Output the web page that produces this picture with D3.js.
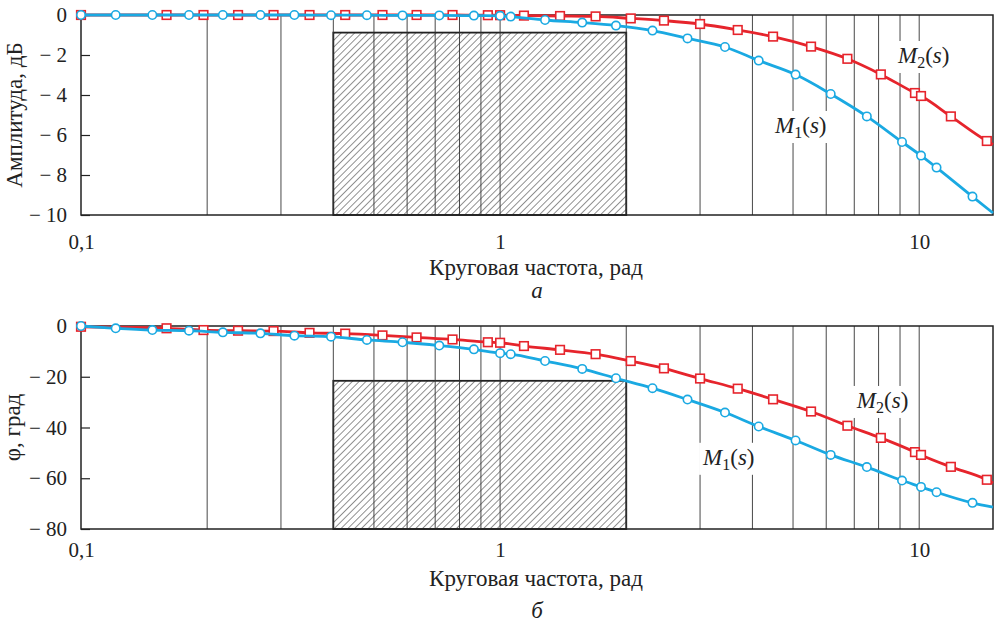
<!DOCTYPE html>
<html>
<head>
<meta charset="utf-8">
<script src="https://cdnjs.cloudflare.com/ajax/libs/d3/7.8.5/d3.min.js"></script>
<style>
body { margin: 0; background: #fff; }
text { font-family: "Liberation Serif", "DejaVu Serif", serif; fill: #222; }
</style>
</head>
<body>
<div id="chart"></div>
<script>
let width = 1001,
    height = 622;

// M1(s): circles, M2(s): squares; last point (15) is the line end at the frame
const m1Freq  = [0.1, 0.121, 0.148, 0.181, 0.218, 0.268, 0.323, 0.395, 0.481, 0.585, 0.716, 0.866,
                 1.0, 1.06, 1.28, 1.57, 1.89, 2.31, 2.80, 3.44, 4.14, 5.07, 6.15, 7.50, 9.10, 10.1, 11.0, 13.4, 15];
const m1Amp   = [0, 0, 0, 0, 0, 0, 0, -0.01, -0.01, -0.02, -0.02, -0.03,
                 -0.04, -0.08, -0.25, -0.38, -0.53, -0.78, -1.17, -1.6, -2.28, -2.98, -3.95, -5.07, -6.35, -7.03, -7.63, -9.08, -9.9];
const m1Phase = [0, -0.9, -1.6, -1.85, -2.5, -2.9, -3.8, -4.2, -5.5, -6.4, -7.7, -9.2,
                 -10.7, -11.1, -13.8, -16.9, -20.6, -24.5, -29, -34.1, -39.6, -45.1, -50.8, -55.6, -60.9, -63.4, -65.5, -69.7, -71.4];

const m2Freq  = [0.1, 0.160, 0.196, 0.237, 0.288, 0.351, 0.427, 0.524, 0.632, 0.770, 0.935,
                 1.0, 1.14, 1.39, 1.69, 2.05, 2.46, 3.00, 3.69, 4.48, 5.52, 6.74, 8.10, 9.77, 10.1, 11.9, 14.5, 15];
const m2Amp   = [0, 0, 0, 0, 0, 0, 0, 0, 0, 0, -0.01,
                 -0.01, -0.03, -0.05, -0.07, -0.17, -0.28, -0.45, -0.75, -1.08, -1.58, -2.19, -2.97, -3.9, -4.05, -5.07, -6.3, -6.47];
const m2Phase = [-0.3, -0.9, -1.6, -1.85, -2.0, -2.7, -3.0, -3.7, -4.5, -5.3, -6.4,
                 -6.6, -7.9, -9.4, -11.1, -13.8, -16.7, -20.7, -24.7, -28.9, -33.7, -39.3, -44.1, -49.7, -50.8, -55.5, -60.6, -61.9];

// hatched band
const bandFreq = [0.4, 2];
const bandAmp = -0.88;
const bandPhase = -21.6;

const ampTicks = [0, -2, -4, -6, -8, -10];
const phaseTicks = [0, -20, -40, -60, -80];
const freqLabels = [0.1, 1, 10];
const freqMax = 15;

// curve label anchors [freq, value]
const ampLabels = [[4.53, -5.9, "1"], [8.9, -2.4, "2"]];
const phaseLabels = [[3.05, -54.7, "1"], [7.1, -32.3, "2"]];

const blue = "#1aa9e2",
      red = "#e6242c";

const svg = d3.select("#chart")
      .append("svg")
      .attr("width", width)
      .attr("height", height);

const x = d3.scaleLog().domain([0.1, freqMax]).range([81, 993]);

svg.append("defs").append("pattern")
    .attr("id", "hatch")
    .attr("patternUnits", "userSpaceOnUse")
    .attr("width", 4.8)
    .attr("height", 4.8)
    .attr("patternTransform", "rotate(45)")
  .append("line")
    .attr("x1", 0).attr("y1", 0)
    .attr("x2", 0).attr("y2", 4.8)
    .attr("stroke", "#222")
    .attr("stroke-width", 1);

const panels = [
  { top: 15, bottom: 215, domain: [-10, 0], ticks: ampTicks, band: bandAmp,
    m1: m1Amp, m2: m2Amp, labels: ampLabels, title: "Амплитуда, дБ", titleX: 22,
    tickPad: 19, xTitleY: 275, letter: "а", letterY: 298 },
  { top: 326, bottom: 529, domain: [-80, 0], ticks: phaseTicks, band: bandPhase,
    m1: m1Phase, m2: m2Phase, labels: phaseLabels, title: "φ, град", titleX: 20,
    tickPad: 13, xTitleY: 586, letter: "б", letterY: 618 }
];

function fmt(d) {
  return d < 0 ? "\u2212 " + Math.abs(d) : String(d).replace(".", ",");
}

panels.forEach(function (p) {
  const y = d3.scaleLinear().domain(p.domain).range([p.bottom, p.top]);
  const g = svg.append("g");

  // hatched band
  g.append("rect")
      .attr("x", x(bandFreq[0]))
      .attr("y", y(p.band))
      .attr("width", x(bandFreq[1]) - x(bandFreq[0]))
      .attr("height", y(p.domain[0]) - y(p.band))
      .attr("fill", "url(#hatch)")
      .attr("stroke", "#222")
      .attr("stroke-width", 1.8);

  // vertical grid
  const grid = x.ticks().filter(function (d) { return d > 0.1 && d < freqMax; });
  g.selectAll(".grid")
      .data(grid)
      .enter().append("line")
      .attr("class", "grid")
      .attr("x1", function (d) { return x(d); })
      .attr("x2", function (d) { return x(d); })
      .attr("y1", p.top)
      .attr("y2", p.bottom)
      .attr("stroke", "#333")
      .attr("stroke-width", 0.9);

  // curve labels with white background
  p.labels.forEach(function (l) {
    const t = g.append("text")
        .attr("x", x(l[0]))
        .attr("y", y(l[1]))
        .style("font-size", "23px");
    t.append("tspan").style("font-style", "italic").text("M");
    t.append("tspan").attr("dy", 5).style("font-size", "16px").text(l[2]);
    t.append("tspan").attr("dy", -5).text("(");
    t.append("tspan").style("font-style", "italic").text("s");
    t.append("tspan").text(")");
    const b = t.node().getBBox();
    g.insert("rect", function () { return t.node(); })
        .attr("x", b.x - 3).attr("y", b.y - 2)
        .attr("width", b.width + 6).attr("height", b.height + 4)
        .attr("fill", "#fff");
  });

  // frame
  g.append("rect")
      .attr("x", x.range()[0])
      .attr("y", p.top)
      .attr("width", x.range()[1] - x.range()[0])
      .attr("height", p.bottom - p.top)
      .attr("fill", "none")
      .attr("stroke", "#222")
      .attr("stroke-width", 1.5);

  // y axis
  const yAxis = g.append("g")
      .attr("transform", "translate(" + x.range()[0] + ",0)")
      .call(d3.axisLeft(y).tickValues(p.ticks).tickSize(-9).tickPadding(14).tickFormat(fmt));
  yAxis.select(".domain").remove();
  yAxis.selectAll("line").attr("stroke", "#222").attr("stroke-width", 1.2);
  yAxis.selectAll("text").style("font-size", "21px").attr("fill", "#222");

  // x axis labels
  const xAxis = g.append("g")
      .attr("transform", "translate(0," + p.bottom + ")")
      .call(d3.axisBottom(x).tickValues(freqLabels).tickSize(0).tickPadding(p.tickPad).tickFormat(fmt));
  xAxis.select(".domain").remove();
  xAxis.selectAll("text").style("font-size", "21px").attr("fill", "#222");

  g.append("text")
      .attr("x", 536)
      .attr("y", p.xTitleY)
      .attr("text-anchor", "middle")
      .style("font-size", "23px")
      .text("Круговая частота, рад");

  g.append("text")
      .attr("x", 537)
      .attr("y", p.letterY)
      .attr("text-anchor", "middle")
      .style("font-size", "23px")
      .style("font-style", "italic")
      .text(p.letter);

  g.append("text")
      .attr("transform", "translate(" + p.titleX + "," + ((p.top + p.bottom) / 2) + ") rotate(-90)")
      .attr("text-anchor", "middle")
      .style("font-size", "23px")
      .text(p.title);

  // curves
  const series = [
    { name: "m2", freq: m2Freq, val: p.m2, color: red, shape: "square" },
    { name: "m1", freq: m1Freq, val: p.m1, color: blue, shape: "circle" }
  ];
  series.forEach(function (s) {
    const pts = s.freq.map(function (f, i) { return [f, s.val[i]]; });
    const line = d3.line()
        .x(function (d) { return x(d[0]); })
        .y(function (d) { return y(d[1]); })
        .curve(d3.curveMonotoneX);
    g.append("path")
        .datum(pts)
        .attr("d", line)
        .attr("fill", "none")
        .attr("stroke", s.color)
        .attr("stroke-width", 2.8);

    const marks = pts.filter(function (d) { return d[0] < freqMax; });
    if (s.shape === "circle") {
      g.selectAll(".mark-" + s.name)
          .data(marks)
          .enter().append("circle")
          .attr("class", "mark-" + s.name)
          .attr("cx", function (d) { return x(d[0]); })
          .attr("cy", function (d) { return y(d[1]); })
          .attr("r", 4.2)
          .attr("fill", "#fff")
          .attr("stroke", s.color)
          .attr("stroke-width", 1.6);
    } else {
      g.selectAll(".mark-" + s.name)
          .data(marks)
          .enter().append("rect")
          .attr("class", "mark-" + s.name)
          .attr("x", function (d) { return x(d[0]) - 4.3; })
          .attr("y", function (d) { return y(d[1]) - 4.3; })
          .attr("width", 8.6)
          .attr("height", 8.6)
          .attr("fill", "#fff")
          .attr("stroke", s.color)
          .attr("stroke-width", 1.6);
    }
  });
});
</script>
</body>
</html>
